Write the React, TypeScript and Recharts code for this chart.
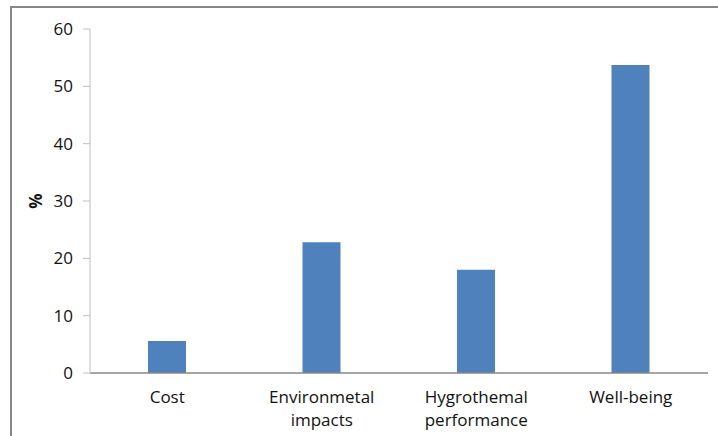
import React from "react";
import { BarChart, Bar, XAxis, YAxis, Label } from "recharts";

// survey result shares per category
const categories: string[] = [
  "Cost",
  "Environmetal impacts",
  "Hygrothemal performance",
  "Well-being",
];
const shares: number[] = [5.6, 22.8, 18.0, 53.7];
const yTicks: number[] = [0, 10, 20, 30, 40, 50, 60];

const data = categories.map((name, i) => ({ name, value: shares[i] }));

const FONT = "'Open Sans', sans-serif";

// category labels break onto two lines at the space
const CategoryTick = (props: any) => {
  const { x, y, payload } = props;
  const lines: string[] = String(payload.value).split(" ");
  return (
    <text
      x={x}
      y={y}
      textAnchor="middle"
      fill="#111"
      fontSize={17}
      fontFamily={FONT}
    >
      {lines.map((line, i) => (
        <tspan key={i} x={x} dy={i === 0 ? 22 : 23}>
          {line}
        </tspan>
      ))}
    </text>
  );
};

const App = () => {
  return (
    <div
      style={{
        position: "absolute",
        left: 0,
        top: 0,
        width: 718,
        height: 436,
        overflow: "hidden",
        background: "#fff",
      }}
    >
      <div
        style={{
          position: "absolute",
          left: 10,
          top: 6,
          width: 740,
          height: 460,
          border: "2px solid #878787",
        }}
      />
      <div style={{ position: "absolute", left: 0, top: 0 }}>
        <BarChart
          width={718}
          height={436}
          data={data}
          margin={{ top: 29, right: 10, left: 40, bottom: 13 }}
          barSize={38}
        >
          <XAxis
            dataKey="name"
            tickLine={false}
            axisLine={{ stroke: "#878787", strokeWidth: 1.5 }}
            tick={<CategoryTick />}
            interval={0}
            height={50}
          />
          <YAxis
            domain={[0, 60]}
            ticks={yTicks}
            width={50}
            tickSize={7}
            tickMargin={10}
            axisLine={{ stroke: "#bfbfbf" }}
            tickLine={{ stroke: "#bfbfbf" }}
            tick={{ fill: "#111", fontSize: 17, fontFamily: FONT }}
          >
            <Label
              value="%"
              angle={-90}
              position="insideLeft"
              offset={-4}
              style={{
                fontWeight: "bold",
                fontSize: 17,
                fontFamily: FONT,
                fill: "#111",
                textAnchor: "middle",
              }}
            />
          </YAxis>
          <Bar dataKey="value" fill="#4f81bd" isAnimationActive={false} />
        </BarChart>
      </div>
    </div>
  );
};

export default App;
